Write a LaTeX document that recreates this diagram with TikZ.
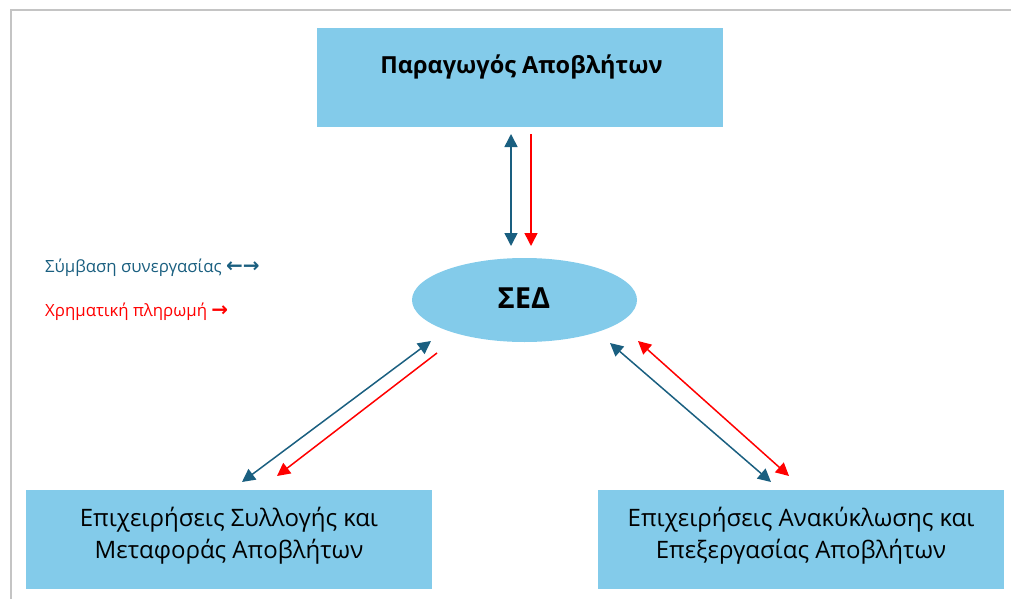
\documentclass[tikz,border=0pt]{standalone}
\usepackage{fontspec}
\setmainfont{Open Sans}
\newfontfamily\arrowfont{DejaVu Sans Bold}
\usetikzlibrary{arrows.meta,shapes.geometric}
\definecolor{boxblue}{RGB}{131,203,234}
\definecolor{darkblue}{RGB}{26,95,128}
\definecolor{framegray}{RGB}{196,196,196}
\tikzset{
  box/.style={fill=boxblue,draw=none,minimum width=406pt,minimum height=99pt,inner sep=0pt},
  lbl/.style={align=center,text=black,inner sep=0pt},
  blueline/.style={draw=darkblue,line width=1.5pt},
  redline/.style={draw=red,line width=1.5pt},
}
\begin{document}
\begin{tikzpicture}[x=1pt,y=-1pt]
\useasboundingbox (0,0) rectangle (1011,599);
\draw[framegray,line width=2.5pt] (11,599) -- (11,10) -- (1011,10);
% boxes
\node[box] (prod) at (520,77.5) {};
\node[lbl,font=\bfseries\fontsize{23.5}{26}\selectfont] (prodt) at (521.5,67) {Παραγωγός Αποβλήτων};
\node[ellipse,fill=boxblue,minimum width=225pt,minimum height=84pt,inner sep=0pt] (sed) at (524.5,300) {};
\node[lbl,font=\bfseries\fontsize{29}{32}\selectfont] (sedt) at (524,298) {ΣΕΔ};
\node[box] (coll) at (228.5,539.5) {};
\node[lbl,font=\fontsize{24}{32}\selectfont] (collt) at (229,536) {Επιχειρήσεις Συλλογής και\\Μεταφοράς Αποβλήτων};
\node[box] (recy) at (801,539.5) {};
\node[lbl,font=\fontsize{24}{32}\selectfont] (recyt) at (801,536) {Επιχειρήσεις Ανακύκλωσης και\\Επεξεργασίας Αποβλήτων};
% legend
\node[anchor=west,text=darkblue,inner sep=0pt,font=\fontsize{16.8}{18}\selectfont] (leg1) at (45,268) {Σύμβαση συνεργασίας {\arrowfont\fontsize{20}{20}\selectfont ←→}};
\node[anchor=west,text=red,inner sep=0pt,font=\fontsize{16.8}{18}\selectfont] (leg2) at (45,312) {Χρηματική πληρωμή {\arrowfont\fontsize{20}{20}\selectfont →}};
% arrow end coordinates
\coordinate (pb1) at (511,134); \coordinate (pb2) at (511,246);
\coordinate (pr1) at (531,134); \coordinate (pr2) at (531,246);
\coordinate (lb1) at (431,341); \coordinate (lb2) at (242,482);
\coordinate (lr1) at (437,353); \coordinate (lr2) at (277,476);
\coordinate (rb1) at (610,343); \coordinate (rb2) at (771,482);
\coordinate (rr1) at (638,341); \coordinate (rr2) at (789,476);
\draw[blueline,{Triangle[length=13pt,width=13pt]}-{Triangle[length=13pt,width=13pt]}] (pb1) -- (pb2);
\draw[redline,-{Triangle[length=13pt,width=13pt]}] (pr1) -- (pr2);
\draw[blueline,{Triangle[length=13pt,width=13pt]}-{Triangle[length=13pt,width=13pt]}] (lb1) -- (lb2);
\draw[redline,-{Triangle[length=13pt,width=13pt]}] (lr1) -- (lr2);
\draw[blueline,{Triangle[length=13pt,width=13pt]}-{Triangle[length=13pt,width=13pt]}] (rb1) -- (rb2);
\draw[redline,{Triangle[length=13pt,width=13pt]}-{Triangle[length=13pt,width=13pt]}] (rr1) -- (rr2);
\end{tikzpicture}
\end{document}
